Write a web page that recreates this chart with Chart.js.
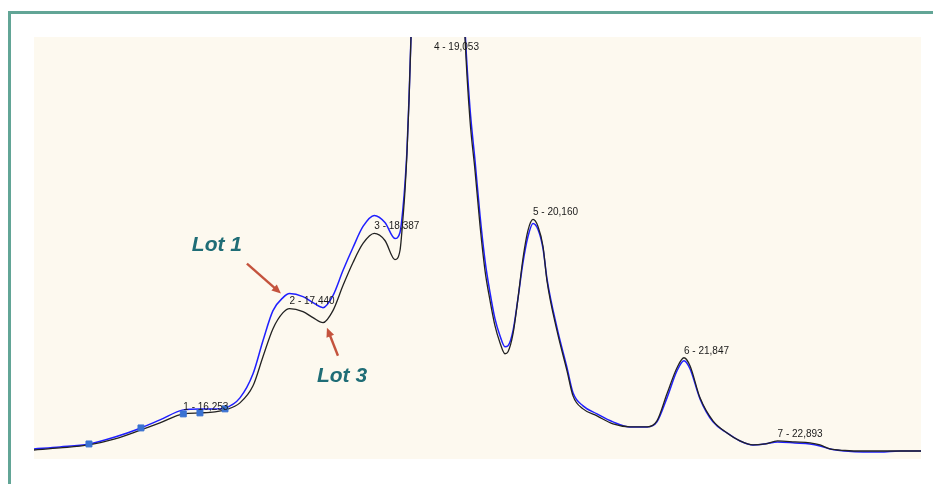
<!DOCTYPE html>
<html>
<head>
<meta charset="utf-8">
<script src="https://cdn.jsdelivr.net/npm/chart.js@4/dist/chart.umd.min.js"></script>
<style>
  html, body { margin: 0; padding: 0; background: #fff; overflow: hidden; }
  #wrap { position: relative; width: 933px; height: 484px; }
  #frame {
    position: absolute; left: 8px; top: 11px; width: 1000px; height: 1000px;
    border-left: 3px solid #62a596; border-top: 3px solid #62a596;
  }
  canvas { position: absolute; left: 0; top: 0; }
</style>
</head>
<body>
<div id="wrap">
  <div id="frame"></div>
  <canvas id="chart" width="933" height="484"></canvas>
</div>
<script>
// retention time (min)
const times = [
  14.585, 14.875, 15.199, 15.490, 15.780, 15.992, 16.253, 16.439, 16.607, 16.719,
  16.886, 17.032, 17.143, 17.255, 17.367, 17.440, 17.590, 17.702, 17.814, 17.925,
  18.037, 18.149, 18.261, 18.387, 18.506, 18.618, 18.674, 18.707, 18.730, 18.752,
  18.775, 18.797, 18.842, 18.897, 18.987, 19.053, 19.188, 19.288, 19.356, 19.400,
  19.456, 19.512, 19.568, 19.624, 19.680, 19.735, 19.791, 19.847, 19.881, 19.937,
  19.992, 20.048, 20.104, 20.160, 20.216, 20.272, 20.316, 20.428, 20.540, 20.607,
  20.719, 20.875, 21.054, 21.244, 21.434, 21.545, 21.657, 21.769, 21.847, 21.914,
  22.026, 22.171, 22.328, 22.473, 22.618, 22.752, 22.893, 23.087, 23.255, 23.367,
  23.478, 23.646, 23.847, 24.037, 24.261, 24.495
]

// detector response, Lot 1
const lot1 = [
  10, 12, 15, 22, 31, 39, 49, 50, 50, 51,
  61, 85, 118, 148, 161, 165, 162, 156, 151, 163,
  188, 211, 232, 243, 236, 220, 226, 250, 275, 308,
  360, 421, 540, 700, 930, 1040, 940, 720, 540, 430,
  350, 298, 243, 198, 166, 140, 123, 112, 113, 128,
  160, 196, 222, 235, 229, 210, 180, 131, 91, 66,
  53, 45, 37, 32, 32, 37, 61, 88, 98, 90,
  60, 37, 26, 18, 14, 15, 17, 16, 15, 13,
  10, 8, 7, 7, 8, 8
]

// detector response, Lot 3
const lot3 = [
  9, 11, 14, 20, 29, 36, 45, 46, 47, 49,
  56, 73, 102, 130, 146, 150, 147, 141, 136, 148,
  173, 196, 215, 225, 218, 199, 208, 240, 268, 305,
  358, 421, 540, 700, 925, 1030, 930, 705, 525, 421,
  338, 288, 233, 188, 158, 133, 116, 105, 107, 125,
  160, 200, 228, 239, 232, 212, 178, 128, 88, 63,
  50, 43, 35, 32, 32, 38, 65, 91, 101, 93,
  61, 38, 26, 18, 14, 15, 18, 17, 16, 14,
  10, 8.5, 8, 8, 8, 8
]

// integration marks on the early shoulder
const markTimes = [15.199, 15.780, 16.253, 16.439, 16.719]
const markValues = [15, 31, 45, 46, 50]

// labelled peaks
const peakTimes = [16.253, 17.440, 18.387, 19.053, 20.160, 21.847, 22.893]

// callouts: [text, time, value]
const lotNotes = [
  ['Lot 1', 16.629, 213],
  ['Lot 3', 18.026, 83]
]
// arrows: [fromTime, fromValue, toTime, toValue]
const lotArrows = [
  [16.964, 195, 17.344, 165],
  [17.981, 103, 17.858, 131]
]

const toPoints = (xs, ys) => xs.map((x, i) => ({ x: x, y: ys[i] }))

const plotBackground = {
  id: 'plotBackground',
  beforeDraw (chart) {
    const { ctx, chartArea: a } = chart
    ctx.save()
    ctx.fillStyle = '#fdf9ef'
    ctx.fillRect(a.left, a.top, a.right - a.left, a.bottom - a.top)
    ctx.restore()
  }
}

const peakLabels = {
  id: 'peakLabels',
  afterDatasetsDraw (chart) {
    const { ctx, chartArea: a } = chart
    const xs = chart.scales.x, ys = chart.scales.y
    ctx.save()
    ctx.font = '10px "Liberation Sans", Arial, sans-serif'
    ctx.fillStyle = '#1a1a1a'
    ctx.textAlign = 'left'
    ctx.textBaseline = 'middle'
    peakTimes.forEach((t, i) => {
      const v = lot3[times.indexOf(t)]
      const px = xs.getPixelForValue(t)
      const py = Math.max(ys.getPixelForValue(v) - 7, a.top + 10)
      ctx.fillText(`${i + 1} - ${t.toFixed(3).replace('.', ',')}`, px, py)
    })
    ctx.restore()
  }
}

const lotCallouts = {
  id: 'lotCallouts',
  afterDraw (chart) {
    const { ctx } = chart
    const xs = chart.scales.x, ys = chart.scales.y
    ctx.save()
    ctx.strokeStyle = '#c4533d'
    ctx.fillStyle = '#c4533d'
    ctx.lineWidth = 2.4
    lotArrows.forEach(([t0, v0, t1, v1]) => {
      const x0 = xs.getPixelForValue(t0), y0 = ys.getPixelForValue(v0)
      const x1 = xs.getPixelForValue(t1), y1 = ys.getPixelForValue(v1)
      const ang = Math.atan2(y1 - y0, x1 - x0)
      const head = 10
      ctx.beginPath()
      ctx.moveTo(x0, y0)
      ctx.lineTo(x1 - Math.cos(ang) * head * 0.7, y1 - Math.sin(ang) * head * 0.7)
      ctx.stroke()
      ctx.beginPath()
      ctx.moveTo(x1, y1)
      ctx.lineTo(x1 - head * Math.cos(ang - 0.42), y1 - head * Math.sin(ang - 0.42))
      ctx.lineTo(x1 - head * Math.cos(ang + 0.42), y1 - head * Math.sin(ang + 0.42))
      ctx.closePath()
      ctx.fill()
    })
    ctx.font = 'italic bold 21px "Liberation Sans", Arial, sans-serif'
    ctx.fillStyle = '#1f6d76'
    ctx.textAlign = 'center'
    ctx.textBaseline = 'middle'
    lotNotes.forEach(([text, t, v]) => {
      ctx.fillText(text, xs.getPixelForValue(t), ys.getPixelForValue(v))
    })
    ctx.restore()
  }
}

new Chart(document.getElementById('chart'), {
  type: 'line',
  data: {
    datasets: [
      {
        label: 'marks',
        type: 'scatter',
        data: toPoints(markTimes, markValues),
        pointStyle: 'rect',
        pointRadius: 4.2,
        backgroundColor: '#3a72d2',
        borderColor: '#3a72d2',
        borderWidth: 1,
        showLine: false
      },
      {
        label: 'Lot 3',
        data: toPoints(times, lot3),
        borderColor: '#222222',
        borderWidth: 1.3,
        pointRadius: 0,
        cubicInterpolationMode: 'monotone',
        fill: false
      },
      {
        label: 'Lot 1',
        data: toPoints(times, lot1),
        borderColor: '#1f1fff',
        borderWidth: 1.5,
        pointRadius: 0,
        cubicInterpolationMode: 'monotone',
        fill: false
      }
    ]
  },
  options: {
    responsive: false,
    animation: false,
    layout: { padding: { left: 34, top: 37, right: 12, bottom: 25 } },
    plugins: {
      legend: { display: false },
      tooltip: { enabled: false }
    },
    scales: {
      x: { type: 'linear', min: 14.585, max: 24.495, display: false },
      y: { min: 0, max: 421, display: false }
    }
  },
  plugins: [plotBackground, peakLabels, lotCallouts]
})
</script>
</body>
</html>
